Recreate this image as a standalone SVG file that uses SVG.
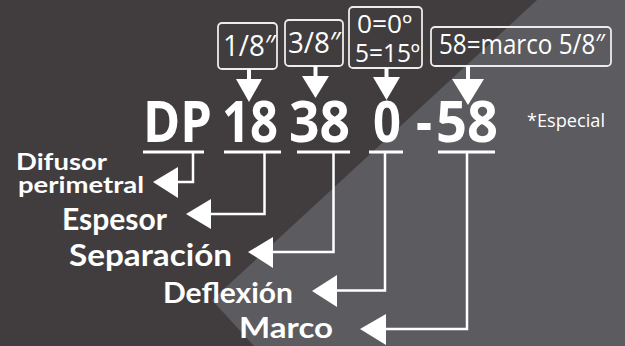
<svg xmlns="http://www.w3.org/2000/svg" width="625" height="346" viewBox="0 0 625 346">
<style>
.box{fill:none;stroke:#ececec;stroke-width:1.8}
.bt{font-family:"Open Sans","Liberation Sans",sans-serif;font-weight:400;fill:#fff;font-size:29px}
.bt2{font-family:"Open Sans","Liberation Sans",sans-serif;font-weight:400;fill:#fff;font-size:25px}
.code{font-family:"Open Sans","Liberation Sans",sans-serif;font-weight:700;fill:#fff;font-size:58px}
.lab{font-family:Lato,"Liberation Sans",sans-serif;font-weight:700;fill:#fff}
.ln{stroke:#fff;stroke-width:2.5;fill:none}
.stem{stroke:#fff;stroke-width:4}
.ul{stroke:#fff;stroke-width:3}
.ah{fill:#fff}
</style>
<rect x="0" y="0" width="625" height="346" fill="#413d3e"/>
<polygon points="537,0 625,0 625,346 254,346 212,300" fill="#5c5b60"/>

<g id="box-espesor">
<rect class="box" x="218" y="23" width="59" height="46" rx="4"/>
<text class="bt" x="223" y="56" textLength="53" lengthAdjust="spacingAndGlyphs">1/8″</text>
</g>
<g id="box-separacion">
<rect class="box" x="285" y="20" width="58" height="46" rx="4"/>
<text class="bt" x="288" y="53" textLength="53" lengthAdjust="spacingAndGlyphs">3/8″</text>
</g>
<g id="box-deflexion">
<rect class="box" x="349" y="7" width="73" height="61" rx="4"/>
<text class="bt2" x="357" y="33" textLength="55" lengthAdjust="spacingAndGlyphs">0=0º</text>
<text class="bt2" x="355" y="62" textLength="65" lengthAdjust="spacingAndGlyphs">5=15º</text>
</g>
<g id="box-marco">
<rect class="box" x="431" y="27" width="180" height="39" rx="4"/>
<text x="439" y="54" font-family="'Open Sans','Liberation Sans',sans-serif" font-size="27" fill="#fff" textLength="166" lengthAdjust="spacingAndGlyphs">58=marco 5/8″</text>
</g>

<g id="code">
<text class="code" x="143" y="142" textLength="69" lengthAdjust="spacingAndGlyphs">DP</text>
<text class="code" x="222" y="142" textLength="56" lengthAdjust="spacingAndGlyphs">18</text>
<text class="code" x="289" y="142" textLength="61" lengthAdjust="spacingAndGlyphs">38</text>
<text class="code" x="373" y="142" textLength="28" lengthAdjust="spacingAndGlyphs">0</text>
<text class="code" x="416" y="142" textLength="16" lengthAdjust="spacingAndGlyphs">-</text>
<text class="code" x="436" y="142" textLength="62" lengthAdjust="spacingAndGlyphs">58</text>
</g>
<g id="especial">
<text x="527" y="127" font-family="'Open Sans','Liberation Sans',sans-serif" font-size="19" fill="#fff" textLength="78" lengthAdjust="spacingAndGlyphs">*Especial</text>
</g>

<g id="labels">
<g id="lab-difusor">
<text class="lab" x="16" y="170" font-size="23" textLength="91" lengthAdjust="spacingAndGlyphs">Difusor</text>
<text class="lab" x="18" y="193" font-size="22" textLength="126" lengthAdjust="spacingAndGlyphs">perimetral</text>
</g>
<g id="lab-espesor"><text class="lab" x="62" y="230" font-size="31" textLength="105" lengthAdjust="spacingAndGlyphs">Espesor</text></g>
<g id="lab-separacion"><text class="lab" x="69" y="266" font-size="31" textLength="163" lengthAdjust="spacingAndGlyphs">Separación</text></g>
<g id="lab-deflexion"><text class="lab" x="163" y="303" font-size="28" textLength="130" lengthAdjust="spacingAndGlyphs">Deflexión</text></g>
<g id="lab-marco"><text class="lab" x="239" y="338" font-size="28" textLength="94" lengthAdjust="spacingAndGlyphs">Marco</text></g>
</g>

<g id="connectors">
<line class="ul" x1="143" y1="152" x2="204" y2="152"/>
<line class="ul" x1="224" y1="152" x2="281" y2="152"/>
<line class="ul" x1="297" y1="152" x2="350" y2="152"/>
<line class="ul" x1="369" y1="152" x2="403" y2="152"/>
<line class="ul" x1="438" y1="152" x2="495" y2="152"/>
<path class="ln" d="M193,152 V182 H176"/>
<path class="ln" d="M264.5,152 V214 H209"/>
<path class="ln" d="M333.5,152 V252 H270"/>
<path class="ln" d="M385,152 V290.5 H335"/>
<path class="ln" d="M467,152 V329 H384"/>
<polygon class="ah" points="153,182 178,167 178,198"/>
<polygon class="ah" points="186,214 211,199 211,229"/>
<polygon class="ah" points="248,252 273,237 273,268"/>
<polygon class="ah" points="312,291 337,275 337,307"/>
<polygon class="ah" points="360,329 386,314 386,345"/>
<line class="stem" x1="249" y1="69" x2="249" y2="80"/>
<polygon class="ah" points="236,79 262,79 249,102"/>
<line class="stem" x1="315.5" y1="66" x2="315.5" y2="77"/>
<polygon class="ah" points="302,76 329,76 315.5,98"/>
<line class="stem" x1="386.5" y1="68" x2="386.5" y2="78"/>
<polygon class="ah" points="373,77 400,77 386.5,100"/>
<line class="stem" x1="468" y1="66" x2="468" y2="80"/>
<polygon class="ah" points="452,79 484,79 468,105"/>
</g>
</svg>
